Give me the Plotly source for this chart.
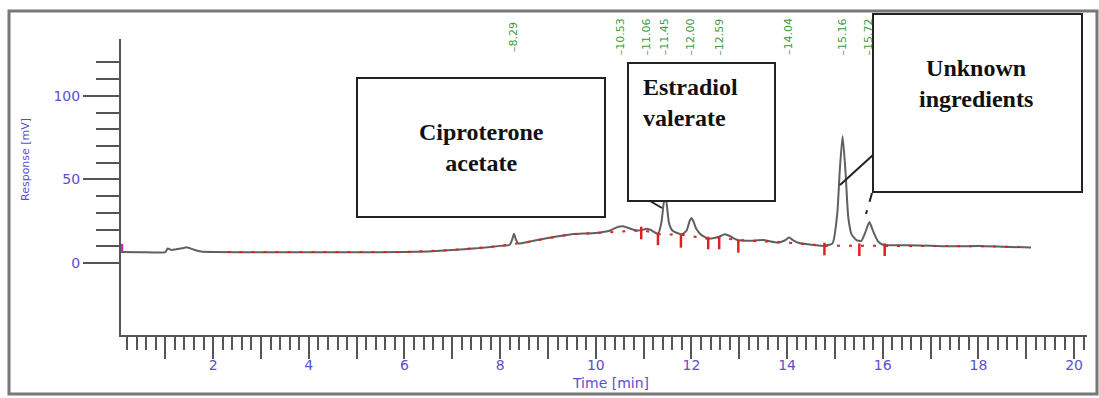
import plotly.graph_objects as go

# ---------------- data ----------------
time_min = [0.07, 0.5, 1.0, 1.05, 1.12, 1.25, 1.35, 1.45, 1.6, 1.75, 2.0, 3.0, 4.0, 5.0,
            6.0, 6.5, 7.0, 7.5, 8.0, 8.2, 8.25, 8.29, 8.33, 8.38, 8.6, 9.0, 9.5, 10.0,
            10.3, 10.45, 10.57, 10.7, 10.85, 11.0, 11.06, 11.15, 11.3, 11.37, 11.42, 11.45,
            11.48, 11.53, 11.6, 11.7, 11.8, 11.9, 11.96, 12.0, 12.04, 12.1, 12.2, 12.35,
            12.5, 12.59, 12.7, 12.8, 12.95, 13.2, 13.5, 13.8, 13.95, 14.04, 14.12, 14.25,
            14.5, 14.75, 14.95, 15.05, 15.1, 15.16, 15.22, 15.28, 15.35, 15.45, 15.55,
            15.63, 15.72, 15.8, 15.9, 16.0, 16.5, 17.0, 17.5, 18.0, 18.5, 19.1]
response_mv = [6.6, 6.5, 6.6, 8.8, 7.9, 8.4, 8.9, 9.5, 8.0, 6.9, 6.6, 6.5, 6.5, 6.5,
               6.6, 7.0, 7.8, 8.8, 10.3, 11.0, 14.0, 17.5, 14.0, 11.8, 12.8, 15.0, 17.3, 18.0,
               19.5, 21.5, 22.0, 20.8, 19.5, 20.0, 20.5, 19.8, 17.5, 24.0, 36.0, 40.0,
               36.0, 24.0, 19.5, 18.0, 17.2, 19.5, 25.0, 27.0, 25.0, 20.5, 17.0, 14.6,
               15.2, 16.0, 17.2, 16.2, 14.0, 13.3, 13.8, 12.2, 13.5, 15.3, 13.8, 12.0,
               11.0, 10.3, 11.8, 30.0, 55.0, 76.0, 55.0, 27.0, 17.0, 13.8, 13.2,
               18.0, 24.5, 19.0, 13.0, 11.0, 10.6, 10.3, 10.0, 10.2, 9.8, 9.3]

baseline_t = [2.3, 6.0, 7.0, 8.0, 8.6, 9.0, 9.5, 10.0, 10.5, 11.0, 11.3, 11.78, 12.35,
              12.58, 12.98, 13.5, 14.0, 14.78, 15.51, 16.04, 17.0, 18.0, 19.0]
baseline_v = [6.6, 6.6, 7.8, 10.3, 12.8, 15.0, 17.3, 18.0, 18.8, 19.6, 17.3, 17.0, 14.5,
              15.2, 13.8, 13.2, 12.3, 10.4, 10.2, 10.2, 10.2, 10.1, 9.5]

marker_t = [10.95, 11.3, 11.78, 12.35, 12.58, 12.98, 14.78, 15.51, 16.04]
marker_v = [18.0, 14.5, 13.0, 12.0, 12.0, 10.0, 8.4, 8.0, 8.0]

peak_times = [8.29, 10.53, 11.06, 11.45, 12.00, 12.59, 14.04, 15.16, 15.72]
peak_labels = ["8.29", "10.53", "11.06", "11.45", "12.00", "12.59", "14.04", "15.16", "15.72"]

x_tick_vals = list(range(1, 21))
x_tick_text = [str(v) if v % 2 == 0 else "" for v in x_tick_vals]
y_tick_vals = [0, 50, 100]
y_minor_vals = [10, 20, 30, 40, 60, 70, 80, 90, 110, 120]

# ---------------- layout geometry (pixels) ----------------
W, H = 1099, 398
L, R, T, B = 121, 12, 39, 63
PW, PH = W - L - R, H - T - B


def pxx(x):
    return (x - L) / PW


def pxy(y):
    return (H - B - y) / PH


AXC = "#555555"
BLUE = "#5a4fcf"
GREEN = "#3c9c3c"
RED = "#e02020"

fig = go.Figure()

fig.add_trace(go.Scatter(x=time_min, y=response_mv, mode="lines",
                         line=dict(color="#606060", width=2, shape="spline", smoothing=0.5),
                         showlegend=False, hoverinfo="skip"))
fig.add_trace(go.Scatter(x=baseline_t, y=baseline_v, mode="lines",
                         line=dict(color=RED, width=2, dash="3px,9px"),
                         showlegend=False, hoverinfo="skip"))
fig.add_trace(go.Scatter(x=marker_t, y=marker_v, mode="markers",
                         marker=dict(symbol="line-ns", size=9,
                                     line=dict(color=RED, width=2.5)),
                         showlegend=False, hoverinfo="skip"))
# start-of-run marker
fig.add_trace(go.Scatter(x=[0.09, 0.09], y=[6.6, 11.5], mode="lines",
                         line=dict(color="#c030c0", width=3), cliponaxis=False,
                         showlegend=False, hoverinfo="skip"))
fig.add_trace(go.Scatter(x=[0.03], y=[17], mode="markers",
                         marker=dict(symbol="circle-open", size=6,
                                     line=dict(color="#c030c0", width=2)),
                         cliponaxis=False, showlegend=False, hoverinfo="skip"))

shapes = []
# outer frame
shapes.append(dict(type="rect", xref="paper", yref="paper",
                   x0=pxx(9), x1=pxx(1097), y0=pxy(394), y1=pxy(11),
                   line=dict(color="#777777", width=3), layer="below"))
# annotation boxes
boxes = [(357, 78, 605, 217), (628, 63, 775, 201), (873, 14, 1082, 192)]
for x0, y0, x1, y1 in boxes:
    shapes.append(dict(type="rect", xref="paper", yref="paper",
                       x0=pxx(x0), x1=pxx(x1), y0=pxy(y1), y1=pxy(y0),
                       line=dict(color="#222222", width=2), fillcolor="white",
                       layer="above"))
# leader lines
for (x0, y0, x1, y1, dash) in [(650, 201, 662, 208, "solid"),
                               (873, 155, 840, 185, "solid"),
                               (872, 193, 866, 214, "dash")]:
    shapes.append(dict(type="line", xref="paper", yref="paper",
                       x0=pxx(x0), y0=pxy(y0), x1=pxx(x1), y1=pxy(y1),
                       line=dict(color="#222222", width=2, dash=dash), layer="above"))

annotations = []
for t, lab in zip(peak_times, peak_labels):
    annotations.append(dict(x=t, y=pxy(37), xref="x", yref="paper", text="\u2013" + lab,
                            textangle=-90, showarrow=False,
                            font=dict(family="DejaVu Sans", size=11, color=GREEN),
                            xanchor="center", yanchor="middle"))

SERIF = dict(family="Liberation Serif", size=24, color="#111111")
annotations += [
    dict(x=pxx(481), y=pxy(147), xref="paper", yref="paper",
         text="<b>Ciproterone<br>acetate</b>", showarrow=False, font=SERIF,
         align="center", xanchor="center", yanchor="middle"),
    dict(x=pxx(641), y=pxy(102), xref="paper", yref="paper",
         text="<b>Estradiol<br>valerate</b>", showarrow=False, font=SERIF,
         align="left", xanchor="left", yanchor="middle"),
    dict(x=pxx(976), y=pxy(83), xref="paper", yref="paper",
         text="<b>Unknown<br>ingredients</b>", showarrow=False, font=SERIF,
         align="center", xanchor="center", yanchor="middle"),
    dict(x=pxx(25), y=pxy(160), xref="paper", yref="paper", text="Response [mV]",
         textangle=-90, showarrow=False, xanchor="center", yanchor="middle",
         font=dict(family="DejaVu Sans", size=11, color=BLUE)),
    dict(x=pxx(610), y=pxy(383), xref="paper", yref="paper", text="Time [min]",
         showarrow=False, xanchor="center", yanchor="middle",
         font=dict(family="DejaVu Sans", size=14, color=BLUE)),
]

fig.update_layout(
    width=W, height=H,
    margin=dict(l=L, r=R, t=T, b=B, pad=0),
    paper_bgcolor="white", plot_bgcolor="white",
    shapes=shapes, annotations=annotations,
    xaxis=dict(range=[0.073, 20.27], showgrid=False, zeroline=False,
               showline=True, linecolor=AXC, linewidth=2,
               tickmode="array", tickvals=x_tick_vals, ticktext=x_tick_text,
               ticks="outside", ticklen=22, tickwidth=2, tickcolor=AXC,
               ticklabelstandoff=-6,
               tickfont=dict(family="DejaVu Sans", size=14, color=BLUE),
               minor=dict(tickmode="linear", tick0=0, dtick=0.2, ticks="outside",
                          ticklen=13, tickwidth=2, tickcolor=AXC)),
    yaxis=dict(range=[-43, 134], showgrid=False, zeroline=False,
               showline=True, linecolor=AXC, linewidth=2,
               tickmode="array", tickvals=y_tick_vals,
               ticktext=[str(v) for v in y_tick_vals],
               ticks="outside", ticklen=36, tickwidth=2, tickcolor=AXC,
               tickfont=dict(family="DejaVu Sans", size=14, color=BLUE),
               minor=dict(tickmode="array", tickvals=y_minor_vals, ticks="outside",
                          ticklen=23, tickwidth=2, tickcolor=AXC)),
)

fig.write_html("out.html", config={"displayModeBar": False},
               post_script="document.body.style.margin='0px';")
